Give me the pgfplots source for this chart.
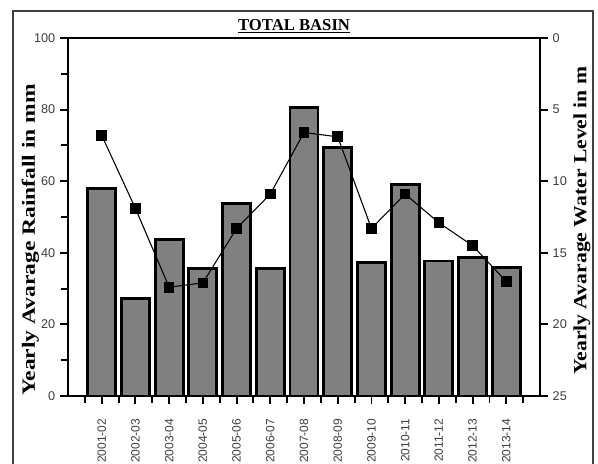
\documentclass[border=0pt]{standalone}
\usepackage{pgfplots}
\pgfplotsset{compat=1.18}
\usepackage{fontspec}
\setmainfont{Liberation Serif}
\newfontfamily\arialf{Liberation Sans}
\definecolor{barg}{RGB}{128,128,128}
\definecolor{tickg}{RGB}{60,60,60}
\begin{document}
\begin{tikzpicture}
\begin{axis}[
  at={(0,0)}, anchor=south west,
  scale only axis, width=354pt, height=268.5pt,
  xmin=-1, xmax=13, ymin=0, ymax=100,
  axis line style={line width=1.8pt},
  ytick={0,20,...,100}, minor ytick={10,30,...,90},
  xtick={0,...,12}, minor xtick={-0.5,0.5,...,12.5},
  xticklabels={2001-02,2002-03,2003-04,2004-05,2005-06,2006-07,2007-08,2008-09,2009-10,2010-11,2011-12,2012-13,2013-14},
  xtick pos=lower, ytick pos=left,
  tick align=outside,
  major tick length=6pt, minor tick length=5pt,
  every tick/.style={line width=1.4pt, black},
  tick label style={font=\arialf\fontsize{9.5}{10}\selectfont, text=tickg},
  /pgf/number format/assume math mode=true,
  x tick label style={rotate=90, anchor=east, font=\arialf\fontsize{9}{10}\selectfont},
  xticklabel shift=7.5pt,
  ylabel={\scalebox{1.26}[1]{\bfseries Yearly Avarage Rainfall in mm}},
  ylabel style={at={(axis description cs:-0.08,0.436)}, rotate=0, anchor=center, font=\fontsize{14}{15}\selectfont},
  clip=false,
]
\addplot[ybar, bar width=21pt, fill=barg, draw=black, line width=2.2pt] coordinates {
(0,58) (1,27.3) (2,43.6) (3,35.5) (4,53.8) (5,35.5) (6,80.6) (7,69.5) (8,37.4) (9,59.2) (10,37.7) (11,38.8) (12,36)
};
\node[anchor=base, yshift=5.5pt, font=\fontsize{12.5}{13}\selectfont\bfseries] at (axis description cs:0.479,1) {\underline{TOTAL BASIN}};
\end{axis}
\begin{axis}[
  at={(0,0)}, anchor=south west,
  scale only axis, width=354pt, height=268.5pt,
  xmin=-1, xmax=13, ymin=0, ymax=25,
  y dir=reverse,
  axis x line=none, axis y line*=right,
  axis line style={line width=1.8pt},
  ytick={0,5,...,25},
  tick align=outside,
  major tick length=6pt,
  every tick/.style={line width=1.4pt, black},
  tick label style={font=\arialf\fontsize{9.5}{10}\selectfont, text=tickg},
  /pgf/number format/assume math mode=true,
  ylabel={\scalebox{1.16}[1]{\bfseries Yearly Avarage Water Level in m}},
  ylabel style={at={(axis description cs:1.089,0.49)}, rotate=0, anchor=center, font=\fontsize{14}{15}\selectfont},
  clip=false,
]
\addplot[black, line width=0.8pt, mark=square*, mark size=3.6pt] coordinates {
(0,6.8) (1,11.9) (2,17.4) (3,17.1) (4,13.3) (5,10.9) (6,6.6) (7,6.9) (8,13.3) (9,10.9) (10,12.9) (11,14.5) (12,17.0)
};
\end{axis}
\draw[line width=1.4pt, black!75] (-41.25pt,-100pt) |- (393.75pt,288.75pt) -- (393.75pt,-100pt);
\pgfresetboundingbox
\path (-51pt,-50.25pt) rectangle (397.5pt,297pt);
\end{tikzpicture}
\end{document}
